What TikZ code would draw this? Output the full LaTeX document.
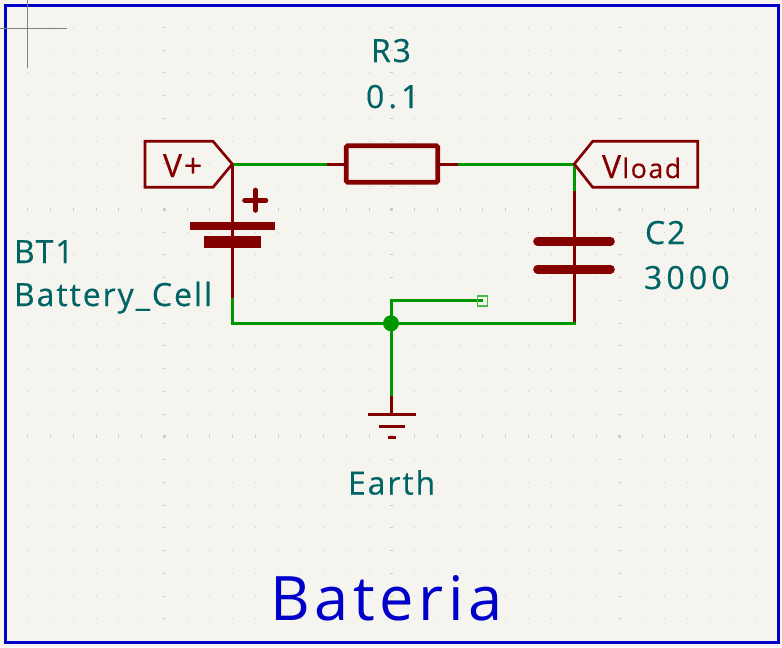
\documentclass[tikz,border=0pt]{standalone}
\usepackage{fontspec}
\setmainfont{Open Sans}
\newfontfamily\schfont[LetterSpace=6,FakeBold=0.4]{Open Sans}
\newfontfamily\digitfont[LetterSpace=13,FakeBold=0.4]{Open Sans}
\newfontfamily\titlefont[LetterSpace=7.5]{Open Sans}
\definecolor{paper}{HTML}{F5F4EF}
\definecolor{wirecol}{HTML}{009600}
\definecolor{symcol}{HTML}{840000}
\definecolor{fieldcol}{HTML}{006464}
\definecolor{framecol}{HTML}{0000C8}
\definecolor{nccol}{HTML}{48B848}
\definecolor{gridcol}{HTML}{CBCBC7}
\definecolor{crosscol}{HTML}{808080}
\tikzset{
  x=0.75pt,y=-0.75pt,
  wire/.style={draw=wirecol,line width=2.25pt,line cap=rect},
  pinline/.style={draw=symcol,line width=2.25pt},
  plate/.style={draw=none,fill=symcol},
  capplate/.style={draw=symcol,line width=6.5pt,line cap=round},
  hierlabel/.style={draw=symcol,line width=2pt,line join=miter},
  fieldtext/.style={anchor=base west,inner sep=0pt,outer sep=0pt,text=fieldcol,font=\schfont\fontsize{24}{24}\selectfont},
  digittext/.style={anchor=base west,inner sep=0pt,outer sep=0pt,text=fieldcol,font=\digitfont\fontsize{24}{24}\selectfont},
  netname/.style={anchor=base west,inner sep=0pt,outer sep=0pt,text=symcol,font=\schfont\fontsize{24}{24}\selectfont},
}
\begin{document}
\begin{tikzpicture}
\useasboundingbox (0,0) rectangle (782,647);
\fill[paper] (0,0) rectangle (782,647);
% grid
\foreach \i in {0,...,32}{
  \foreach \j in {0,...,26}{
    \pgfmathsetmacro{\gx}{27.8+22.75*\i}
    \pgfmathsetmacro{\gy}{27.3+22.75*\j}
    \pgfmathsetmacro{\hw}{(\i==6||\i==16||\i==26)?1.5:0.55}
    \pgfmathsetmacro{\hh}{(\j==8||\j==18)?1.5:0.55}
    \fill[gridcol] (\gx-\hw,\gy-\hh) rectangle (\gx+\hw,\gy+\hh);
  }
}
% frame and cursor
\draw[framecol,line width=2.25pt] (5.5,5.5) rectangle (778.5,642);
\draw[crosscol,line width=0.9pt] (27.3,0) -- (27.3,68);
\draw[crosscol,line width=0.9pt] (0,28.3) -- (67,28.3);

% connection points
\coordinate (tl) at (232.3,164);
\coordinate (tr) at (574.3,164);
\coordinate (rl) at (325,164);
\coordinate (rr) at (459,164);
\coordinate (bp) at (232.3,299);
\coordinate (cp1) at (574.3,189);
\coordinate (cp2) at (574.3,323.3);
\coordinate (bl) at (232.3,323.3);
\coordinate (j) at (391,323.3);
\coordinate (gp) at (391,394);
\coordinate (gnd) at (391,414.3);
\coordinate (nc) at (481,300);
\coordinate (nu) at (391,300);

% resistor
\node[draw=symcol,line width=3.4pt,rounded corners=1pt,minimum width=0.75pt*91.5,minimum height=0.75pt*36.5,inner sep=0pt,outer sep=0pt] (R3) at (392,164) {};
\draw[pinline] (rl) -- (R3.west);
\draw[pinline] (R3.east) -- (rr);

% battery
\draw[pinline] (tl) -- (bp);
\fill[plate] (190,222) rectangle (275,230);
\fill[plate] (204,236) rectangle (261,248);
\draw[symcol,line width=3.4pt,line cap=round] (244.5,200.3) -- (266,200.3);
\draw[symcol,line width=3.4pt,line cap=round] (255.3,190) -- (255.3,210.5);

% capacitor
\draw[pinline] (cp1) -- (cp2);
\draw[capplate] (537.5,241.3) -- (610.5,241.3);
\draw[capplate] (537.5,269.3) -- (610.5,269.3);

% earth
\draw[pinline] (gp) -- (gnd);
\draw[symcol,line width=2.25pt] (368,414.3) -- (416,414.3);
\draw[symcol,line width=2.25pt] (379,426.3) -- (405,426.3);
\draw[symcol,line width=2.25pt] (388,437.3) -- (396,437.3);

% wires
\draw[wire] (tl) -- (rl);
\draw[wire] (rr) -- (tr) -- (cp1);
\draw[wire] (bp) -- (bl) -- (j) -- (cp2);
\draw[wire] (j) -- (gp);
\draw[wire] (j) -- (nu) -- (nc);
\fill[wirecol] (j) circle (8);
\node[draw=nccol,line width=0.9pt,minimum size=0.75pt*10,inner sep=0pt] (NC) at (482.3,301) {};

% hierarchical labels
\draw[hierlabel] (tl) -- (213,141.3) -- (145,141.3) -- (145,187.3) -- (213,187.3) -- cycle;
\draw[hierlabel] (tr) -- (592.7,141.3) -- (697.7,141.3) -- (697.7,187.3) -- (592.7,187.3) -- cycle;
\node[netname] (vplus) at (163,177) {V+};
\node[netname] (vload) at (602,178) {V\kern1pt{\fontsize{20}{20}\selectfont load}};

% field texts
\node[fieldtext] (r3ref) at (371,62) {R3};
\node[digittext] (r3val) at (366,108) {0.1};
\node[fieldtext] (btref) at (14,263) {BT1};
\node[fieldtext] (btval) at (14,306) {Battery\_Cell};
\node[fieldtext] (c2ref) at (645,244) {C2};
\node[digittext] (c2val) at (644,289) {3000};
\node[fieldtext] (earth) at (348,494.5) {Earth};
\node[anchor=base west,inner sep=0pt,text=framecol,font=\titlefont\fontsize{46}{46}\selectfont] (title) at (270,620) {Bateria};
\end{tikzpicture}
\end{document}
